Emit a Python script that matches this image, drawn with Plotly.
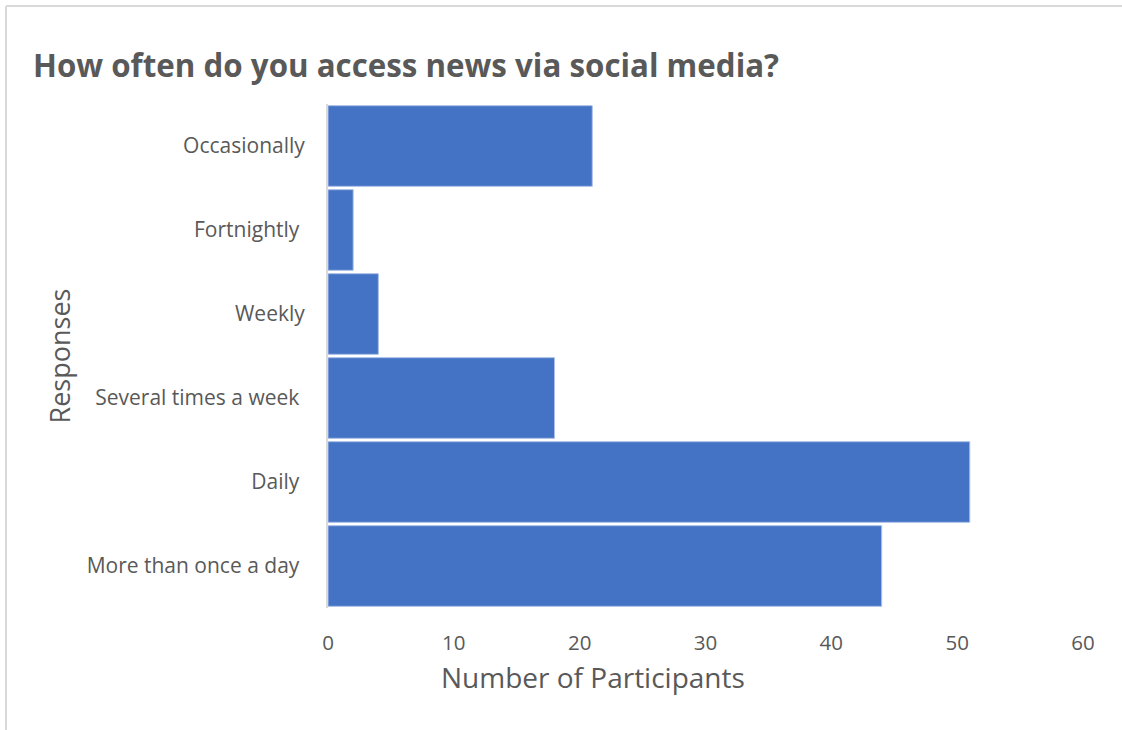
import plotly.graph_objects as go

categories = ["More than once a day", "Daily", "Several times a week", "Weekly", "Fortnightly", "Occasionally"]
tick_labels = ["More than once a day\u00a0", "Daily\u00a0", "Several times a week\u00a0", "Weekly", "Fortnightly\u00a0", "Occasionally"]
participants = [44, 51, 18, 4, 2, 21]
x_ticks = [0, 10, 20, 30, 40, 50, 60]

W, H = 1122, 730
L, R, T, B = 328, 39, 104, 122
pw = W - L - R
ph = H - T - B

fig = go.Figure()
fig.add_trace(go.Bar(
    y=categories, x=participants, orientation="h",
    marker=dict(color="#4472C4", line=dict(color="#A9BFE6", width=1)),
    hoverinfo="x+y",
))

gray = "#595959"
font = "Open Sans"

fig.update_layout(
    width=W, height=H,
    margin=dict(l=L, r=R, t=T, b=B, pad=0),
    paper_bgcolor="white", plot_bgcolor="white",
    bargap=0.04,
    showlegend=False,
    font=dict(family=font, color=gray),
    title=dict(text="<b>How often do you access news via social media?</b>",
               x=33 / W, xanchor="left", y=1 - 66 / H, yanchor="middle",
               font=dict(family=font, size=31.3, color=gray)),
    xaxis=dict(range=[0, 60], tickvals=x_ticks, showgrid=False, zeroline=False,
               showline=False, ticks="", ticklabelstandoff=20,
               tickfont=dict(size=20.5, color=gray, family=font)),
    yaxis=dict(categoryorder="array", categoryarray=categories,
               tickvals=categories, ticktext=tick_labels,
               showgrid=False, zeroline=False, showline=True, linecolor="#D9D9D9", linewidth=2,
               ticks="", ticklabelstandoff=17,
               tickfont=dict(size=21, color=gray, family=font),
               title=dict(text="Responses", standoff=8,
                          font=dict(size=27, color=gray, family=font))),
)

# x-axis title (offset left of plot centre, as in the original)
fig.add_annotation(text="Number of Participants", xref="paper", yref="paper",
                   x=(592.5 - L) / pw, y=(H - B - 677) / ph,
                   xanchor="center", yanchor="middle", showarrow=False,
                   font=dict(size=28, color=gray, family=font))

# chart border (top and left edges visible)
bx = (6 - L) / pw
by = (H - B - 6) / ph
fig.add_shape(type="line", xref="paper", yref="paper", x0=bx, x1=bx, y0=-0.5, y1=by,
              line=dict(color="#D9D9D9", width=2))
fig.add_shape(type="line", xref="paper", yref="paper", x0=bx, x1=1.2, y0=by, y1=by,
              line=dict(color="#D9D9D9", width=2))

fig.write_html("out.html")
